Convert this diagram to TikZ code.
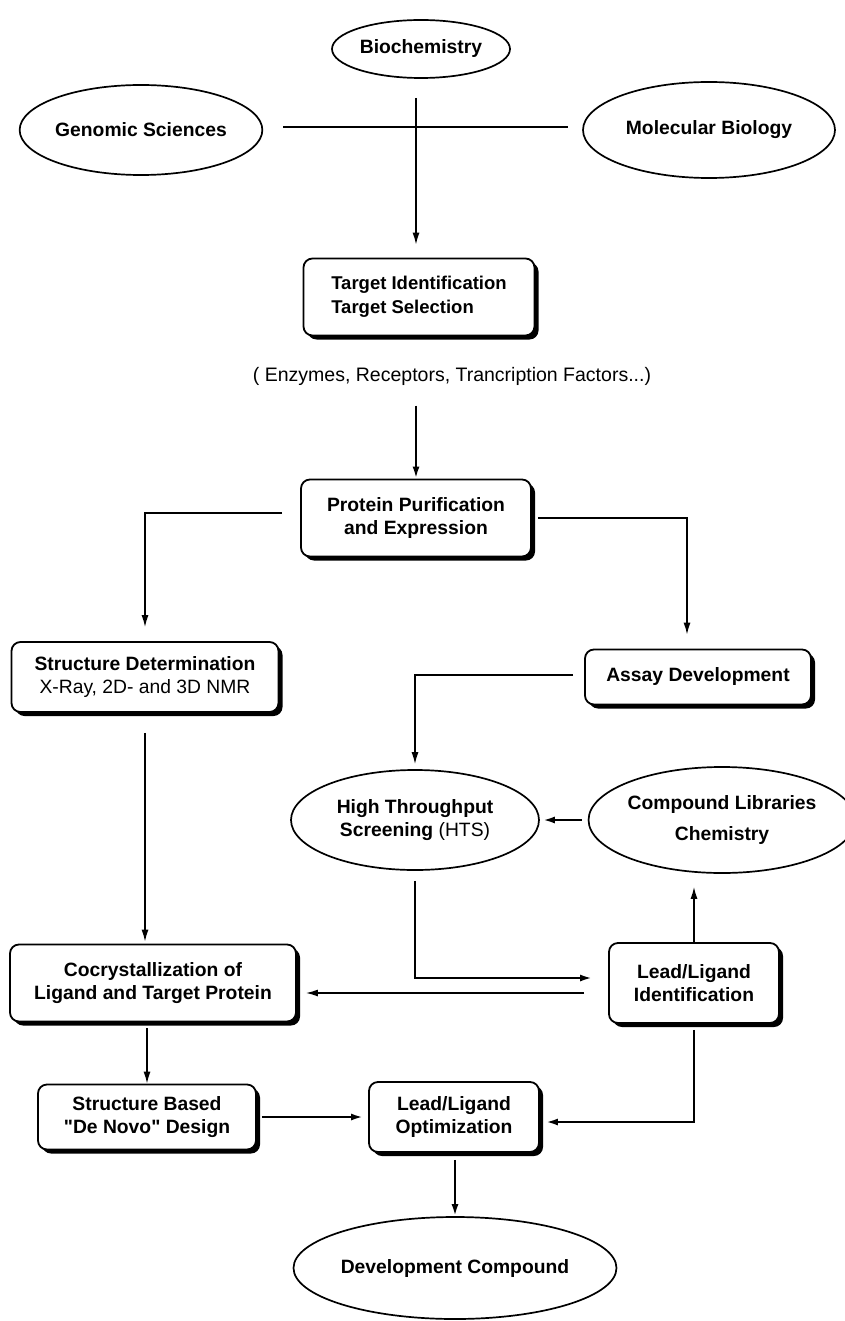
\documentclass[tikz,border=0pt]{standalone}
\usepackage{fontspec}
\setmainfont{Liberation Sans}[Ligatures=TeXOff]
\usetikzlibrary{arrows.meta,shapes.geometric,shadows}

\begin{document}
\begin{tikzpicture}[x=1pt,y=-1pt,>={Latex[length=12pt,width=7pt]},
 txt/.style={font=\fontsize{19.5}{23}\selectfont},
 oval/.style={ellipse,draw,line width=1.7pt,inner sep=0pt,align=center,font=\fontsize{19.3}{23.5}\selectfont\bfseries},
 stage/.style={rectangle,rounded corners=9pt,draw,line width=1.8pt,fill=white,inner sep=0pt,align=center,
  font=\fontsize{19.3}{23.5}\selectfont\bfseries,drop shadow={shadow xshift=4pt,shadow yshift=-4pt,opacity=1,fill=black}},
 link/.style={line width=1.4pt},
 heavy/.style={line width=2.3pt}]
 \useasboundingbox (0,0) rectangle (845,1321);
 \node[oval,minimum width=178pt,minimum height=58pt] (bio) at (421,49) {Biochemistry};
 \node[oval,minimum width=223pt,minimum height=90pt] (genomic) at (141,130) {Genomic Sciences};
 \node[oval,minimum width=252pt,minimum height=96pt] (molbio) at (709,130) {Molecular Biology};
 \node[stage,align=left,font=\fontsize{18.5}{23.5}\selectfont\bfseries,minimum width=231pt,minimum height=77pt] (target) at (419,297) {Target Identification\\Target Selection};
 \node[txt] (enz) at (452,376) {( Enzymes, Receptors, Trancription Factors...)};
 \node[stage,minimum width=230pt,minimum height=77pt] (protein) at (416,518) {Protein Purification\\and Expression};
 \node[stage,minimum width=267pt,minimum height=70pt] (struct) at (145,677) {Structure Determination\\\mdseries X-Ray, 2D- and 3D NMR};
 \node[stage,minimum width=226pt,minimum height=55pt] (assay) at (698,677) {Assay Development};
 \node[oval,minimum width=248pt,minimum height=100pt] (hts) at (415,820) {High Throughput\\Screening {\mdseries(HTS)}};
 \node[oval,minimum width=242pt,minimum height=106pt] (complib) at (722,820) {Compound Libraries\\[7pt]Chemistry};
 \node[stage,minimum width=286pt,minimum height=77pt] (cocryst) at (153,983) {Cocrystallization of\\Ligand and Target Protein};
 \node[stage,minimum width=170pt,minimum height=80pt] (leadid) at (694,983) {Lead/Ligand\\Identification};
 \node[stage,minimum width=218pt,minimum height=65pt] (design) at (147,1117) {Structure Based\\"De Novo" Design};
 \node[stage,minimum width=170pt,minimum height=70pt] (leadopt) at (454,1117) {Lead/Ligand\\Optimization};
 \node[oval,minimum width=262pt,minimum height=102pt] (devcmp) at (455,1268) {Development Compound};
 \coordinate (fork) at (416,98);
 \draw[heavy] ([xshift=20pt,yshift=3pt]genomic.east) -- ([xshift=-14pt,yshift=3pt]molbio.west);
 \draw[link,->,shorten >=13pt] (fork) -- (fork |- target.north);
 \draw[heavy,->] (protein.north |- enz.south) ++(0,17) -- (protein.north);
 \draw[link,->,shorten >=14pt] ([xshift=-18pt,yshift=5pt]protein.west) -| (struct.north);
 \draw[link,->,shorten >=14pt] ([xshift=6pt]protein.east) -| ([xshift=-11pt]assay.north);
 \draw[link,->,shorten >=5pt] ([xshift=-11pt,yshift=2pt]assay.west) -| (hts.north);
 \draw[heavy,->] ([xshift=-6pt]complib.west) -- ([xshift=3pt]hts.east);
 \draw[link,->,shorten >=2pt] ([yshift=-20pt]struct.south) -- (struct.south |- cocryst.north);
 \draw[heavy,->,shorten >=16pt] ([yshift=-10pt]hts.south) |- ([yshift=5pt]leadid.west);
 \draw[link,->,shorten >=9pt] ([xshift=-24pt,yshift=-10pt]leadid.west) -- ([yshift=-10pt]cocryst.east);
 \draw[link,->,shorten >=13pt] (leadid.north) -- (leadid.north |- complib.south);
 \draw[link,->] (design.north |- cocryst.south) ++(0,6) -- (design.north);
 \draw[heavy,->,shorten >=5pt] ([xshift=5pt]design.east) -- (leadopt.west);
 \draw[heavy,->,shorten >=2pt] ([yshift=-6pt]leadid.south) |- ([xshift=4pt,yshift=-5pt]leadopt.east);
 \draw[heavy,->] (devcmp.north |- leadopt.south) ++(0,7) -- (devcmp.north);
\end{tikzpicture}
\end{document}
